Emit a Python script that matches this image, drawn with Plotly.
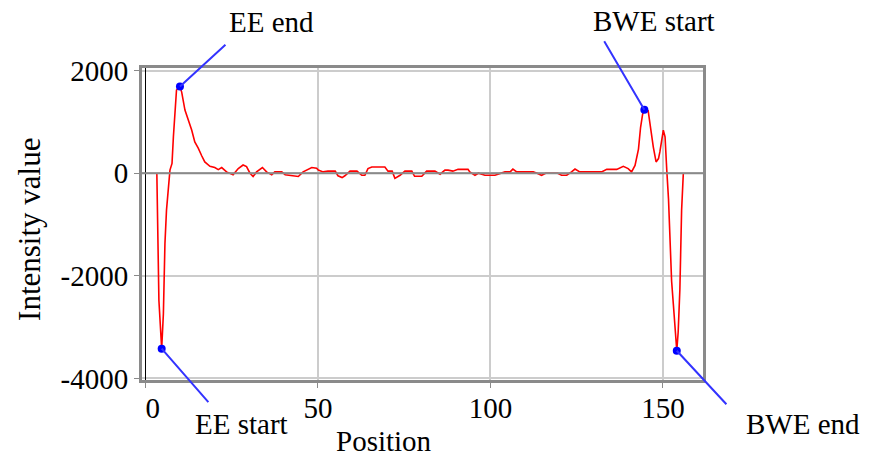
import plotly.graph_objects as go

# intensity profile (position, intensity)
position = [
    3.3, 3.5, 3.9, 4.7, 5.2, 5.65, 6.1, 7.1, 7.7, 8.1, 8.55, 9.0, 10.0, 10.5,
    11.45, 12.4, 13.4, 14.3, 15.3, 16.3, 17.2, 18.7, 20.1, 21.1, 22.1, 23.5,
    25.4, 26.9, 28.3, 29.3, 30.3, 31.2, 32.2, 33.9, 35.1, 36.6, 37.5, 38.5,
    39.5, 40.5, 42.0, 44.3, 45.7, 46.7, 48.2, 49.6, 50.1, 51.5, 52.9, 55.0,
    55.8, 57.0, 57.8, 59.3, 61.3, 62.7, 63.6, 64.5, 65.6, 69.4, 70.3, 71.5,
    72.3, 73.8, 75.2, 77.2, 78.0, 80.1, 81.5, 83.9, 85.4, 86.8, 87.7, 89.1,
    90.6, 93.5, 94.0, 95.5, 96.5, 98.4, 101.3, 104.2, 105.7, 106.5, 107.6,
    109.0, 112.4, 113.5, 114.8, 116.0, 119.5, 120.6, 122.1, 123.5, 124.5,
    125.9, 132.2, 133.7, 136.6, 138.5, 139.9, 140.9, 141.9, 142.9, 143.5,
    144.1, 144.6, 145.7, 146.2, 146.7, 147.2, 148.0, 148.7, 149.1, 149.6,
    150.1, 150.6, 150.9, 151.1, 151.6, 152.0, 152.5, 153.0, 153.5, 154.0,
    154.4, 154.9, 155.4, 155.9,
]
intensity = [
    0, -870, -2480, -3420, -2740, -1370, -720, 60, 190, 710, 1170, 1620, 1690, 1580,
    1230, 1040, 840, 610, 490, 340, 220, 135, 110, 70, 110, 25,
    -30, 90, 160, 130, 0, -65, 25, 110, 25, -30, 25, 25,
    25, -30, -45, -65, 25, 60, 110, 95, 60, 25, 40, 40,
    -50, -85, -50, 40, 40, -40, -40, 90, 120, 120, 40, 40,
    -100, -40, 40, 40, -60, -60, 40, 40, -20, 60, 60, 40,
    75, 75, 25, -40, 0, -40, -40, 25, 25, 80, 25,
    25, 25, 0, -40, 0, 0, -40, -40, 25, 80,
    25, 25, 75, 75, 135, 90, 25, 150, 470, 890,
    1150, 1236, 1220, 970, 770, 510, 220, 285, 415, 680,
    840, 710, 415, 60, -500, -1300, -2100, -2550, -3100, -3460,
    -3100, -2260, -720, 0,
]

# axis ticks
x_ticks = [0, 50, 100, 150]
x_ticktext = ["\u00a0\u00a00", "50", "100", "150"]
y_ticks = [-4000, -2000, 0, 2000]
y_ticktext = ["-4000", "-2000", "0", "2000"]

# marked points on the profile
key_labels = ["EE start", "EE end", "BWE start", "BWE end"]
key_position = [4.7, 10.0, 144.6, 154.0]

# label placement (pixel offsets from each marker)
line_ax = [48, 47, -41, 51]
line_ay = [55, -43, -70, 55]
text_dx = [80, 92, 10, 126]
text_dy = [-75, 64, 89, -73]

FONT = "Liberation Serif"
TXT = dict(family=FONT, size=29, color="#000")
# the page body adds an 8px offset, so the margins are shifted to compensate
PAD = 8

fig = go.Figure()

fig.add_trace(go.Scatter(
    x=position, y=intensity, mode="lines",
    line=dict(color="#ff0000", width=1.6),
    showlegend=False, hoverinfo="skip",
))

key_index = [position.index(p) for p in key_position]
kx = [position[i] for i in key_index]
ky = [intensity[i] for i in key_index]
fig.add_trace(go.Scatter(
    x=kx, y=ky, mode="markers",
    marker=dict(color="#0000ff", size=8),
    showlegend=False, cliponaxis=False,
))

# zero reference line drawn over the profile
fig.add_shape(type="line", xref="paper", x0=0, x1=1, yref="y", y0=0, y1=0,
              line=dict(color="#8a8a8a", width=2), layer="above")

for i, lab in enumerate(key_labels):
    fig.add_annotation(x=kx[i], y=ky[i], text="", showarrow=True,
                       ax=line_ax[i], ay=line_ay[i], arrowhead=0,
                       arrowwidth=2, arrowcolor="#3333ff", standoff=0)
    fig.add_annotation(x=kx[i], y=ky[i], text=lab, showarrow=False,
                       xshift=text_dx[i], yshift=text_dy[i], font=TXT)

# axis titles (placed as in the source image, not centred on the axes)
fig.add_annotation(text="Position", xref="paper", yref="paper", x=0.431, y=0,
                   xanchor="center", yanchor="middle",
                   yshift=-61, showarrow=False, font=TXT)
fig.add_annotation(text="Intensity value", xref="paper", yref="paper", x=0, y=0.481,
                   xanchor="center", yanchor="middle",
                   xshift=-112, textangle=-90, showarrow=False,
                   font=dict(family=FONT, size=31, color="#000"))

fig.update_xaxes(
    range=[-1, 161.6], tickvals=x_ticks, ticktext=x_ticktext, automargin=False,
    showgrid=True, gridcolor="#cccccc", gridwidth=2,
    zeroline=True, zerolinecolor="#000000", zerolinewidth=1,
    showline=True, mirror=True, linecolor="#8a8a8a", linewidth=3,
    ticks="outside", ticklen=5, tickcolor="#8a8a8a", tickwidth=1,
    ticklabelstandoff=-5, tickfont=TXT,
)
fig.update_yaxes(
    range=[-4030, 2050], tickvals=y_ticks, ticktext=y_ticktext, automargin=False,
    showgrid=True, gridcolor="#cccccc", gridwidth=2,
    zeroline=False,
    showline=True, mirror=True, linecolor="#8a8a8a", linewidth=3,
    ticks="outside", ticklen=5, tickcolor="#8a8a8a", tickwidth=1,
    tickfont=TXT,
)

fig.update_layout(
    width=873, height=461,
    margin=dict(l=142 - PAD, r=170 + PAD, t=68 - PAD, b=81 + PAD),
    plot_bgcolor="white", paper_bgcolor="white",
)

fig.write_html("out.html")
